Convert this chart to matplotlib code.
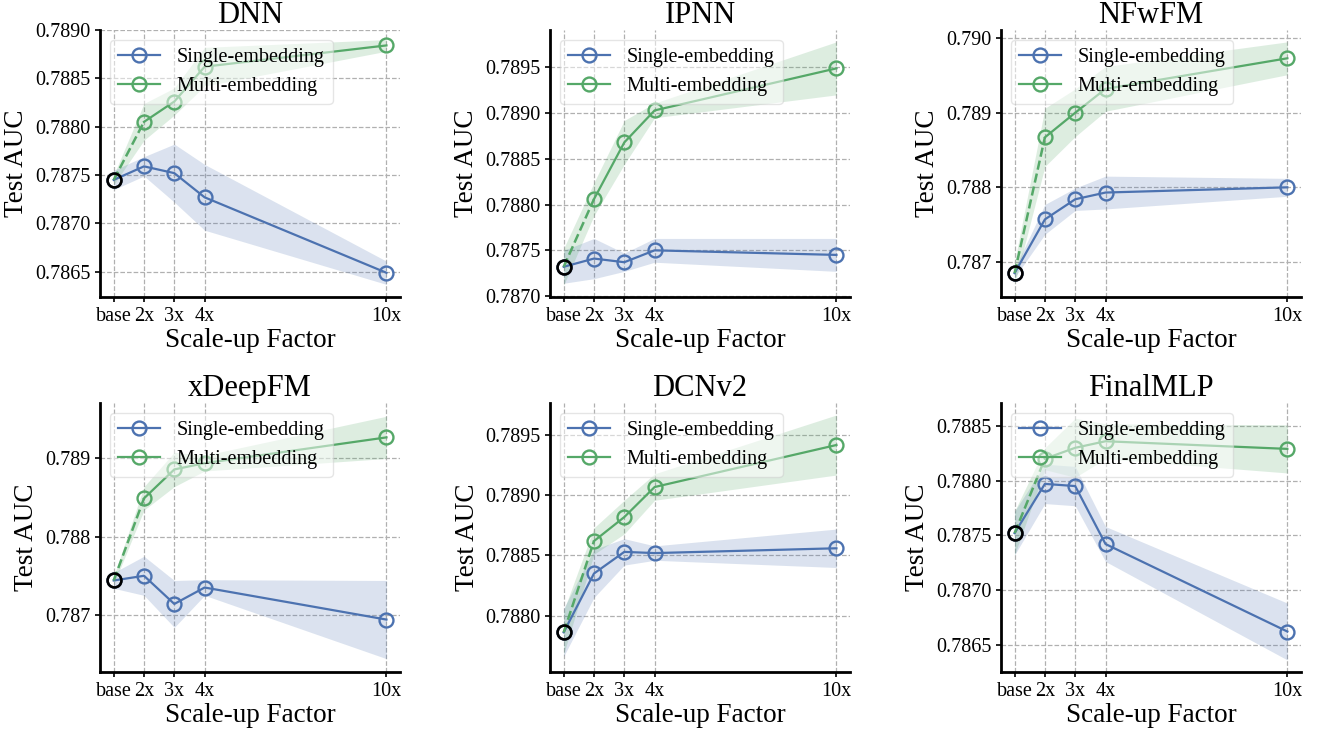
import matplotlib
matplotlib.use('Agg')
import matplotlib.pyplot as plt
from matplotlib.ticker import MultipleLocator, FormatStrFormatter
import numpy as np

plt.rcParams['font.family'] = ['Liberation Serif', 'DejaVu Serif']

# x 轴位置和标签
scale_x = [1, 2, 3, 4, 10]
scale_labels = ['base', '2x', '3x', '4x', '10x']

models = ['DNN', 'IPNN', 'NFwFM', 'xDeepFM', 'DCNv2', 'FinalMLP']

# 各模型的均值与标准差
dnn_single = [0.78745, 0.78759, 0.78752, 0.78727, 0.78649]
dnn_single_std = [0.0001, 0.0001, 0.0003, 0.00034, 0.00012]
dnn_multi = [0.78745, 0.78805, 0.78826, 0.78862, 0.78884]
dnn_multi_std = [0.00005, 0.00019, 0.00014, 0.0002, 0.00006]

ipnn_single = [0.78732, 0.78741, 0.78737, 0.78750, 0.78745]
ipnn_single_std = [0.00018, 0.00022, 0.0001, 0.00013, 0.00018]
ipnn_multi = [0.78732, 0.78806, 0.78868, 0.78903, 0.78949]
ipnn_multi_std = [0.0002, 0.00018, 0.00024, 0.00008, 0.00029]

nfwfm_single = [0.78685, 0.78757, 0.78784, 0.78793, 0.78800]
nfwfm_single_std = [0.00006, 0.0002, 0.00015, 0.00022, 0.00012]
nfwfm_multi = [0.78685, 0.78867, 0.78900, 0.78932, 0.78973]
nfwfm_multi_std = [0.00015, 0.00039, 0.00032, 0.0003, 0.00022]

xdeepfm_single = [0.78744, 0.78750, 0.78714, 0.78735, 0.78694]
xdeepfm_single_std = [0.0001, 0.00025, 0.0003, 0.0001, 0.0005]
xdeepfm_multi = [0.78744, 0.78849, 0.78886, 0.78894, 0.78927]
xdeepfm_multi_std = [0.00005, 0.00015, 0.00022, 0.0001, 0.00027]

dcnv2_single = [0.78786, 0.78835, 0.78853, 0.78852, 0.78856]
dcnv2_single_std = [0.0002, 0.0002, 0.00011, 0.00006, 0.00016]
dcnv2_multi = [0.78786, 0.78862, 0.78882, 0.78907, 0.78942]
dcnv2_multi_std = [0.00018, 0.00011, 0.00014, 0.00011, 0.00025]

finalmlp_single = [0.78752, 0.78797, 0.78795, 0.78742, 0.78662]
finalmlp_single_std = [0.0002, 0.00018, 0.00018, 0.00016, 0.00026]
finalmlp_multi = [0.78752, 0.78820, 0.78830, 0.78836, 0.78829]
finalmlp_multi_std = [0.0002, 0.0001, 0.00027, 0.00016, 0.00022]

singles = [dnn_single, ipnn_single, nfwfm_single, xdeepfm_single, dcnv2_single, finalmlp_single]
singles_std = [dnn_single_std, ipnn_single_std, nfwfm_single_std,
               xdeepfm_single_std, dcnv2_single_std, finalmlp_single_std]
multis = [dnn_multi, ipnn_multi, nfwfm_multi, xdeepfm_multi, dcnv2_multi, finalmlp_multi]
multis_std = [dnn_multi_std, ipnn_multi_std, nfwfm_multi_std,
              xdeepfm_multi_std, dcnv2_multi_std, finalmlp_multi_std]

# 坐标轴范围和刻度间隔
ylims = [(0.78624, 0.7890), (0.78699, 0.78991), (0.78653, 0.79011),
         (0.78627, 0.78971), (0.78753, 0.78977), (0.78625, 0.78871)]
ysteps = [0.0005, 0.0005, 0.001, 0.001, 0.0005, 0.0005]

blue = '#4C72B0'
green = '#55A868'

fig = plt.figure(figsize=(13.2, 7.32), dpi=100)
lefts = [0.0758, 0.4167, 0.7583]
rows = [(0.5943, 0.3648), (0.082, 0.3675)]

for i, name in enumerate(models):
    b, h = rows[i // 3]
    ax = fig.add_axes([lefts[i % 3], b, 0.2273, h])
    x = np.array(scale_x)
    s = np.array(singles[i])
    ss = np.array(singles_std[i])
    m = np.array(multis[i])
    ms = np.array(multis_std[i])

    ax.fill_between(x, s - ss, s + ss, color=blue, alpha=0.2, lw=0, zorder=1)
    ax.fill_between(x, m - ms, m + ms, color=green, alpha=0.2, lw=0, zorder=1)

    ax.plot(x, s, color=blue, lw=1.6, marker='o', ms=10, mfc='none', mew=1.7,
            label='Single-embedding', zorder=3)
    # base -> 2x 虚线
    ax.plot(x[:2], m[:2], color=green, lw=1.8, ls='--', zorder=3)
    ax.plot(x[1:], m[1:], color=green, lw=1.6, marker='o', ms=10, mfc='none', mew=1.7,
            zorder=3)
    ax.plot([], [], color=green, lw=1.6, marker='o', ms=10, mfc='none', mew=1.7,
            label='Multi-embedding')
    ax.plot(x[0], s[0], marker='o', ms=10, mfc='none', mec='black', mew=1.9, zorder=4)

    ax.set_xlim(0.55, 10.45)
    ax.set_ylim(*ylims[i])
    ax.set_xticks(scale_x)
    ax.set_xticklabels(scale_labels)
    ax.yaxis.set_major_locator(MultipleLocator(ysteps[i]))
    fmt = '%.4f' if ysteps[i] < 0.001 else '%.3f'
    ax.yaxis.set_major_formatter(FormatStrFormatter(fmt))
    ax.tick_params(labelsize=14.5, length=3.5, width=1.2)

    ax.grid(True, ls='--', color='#b0b0b0', lw=0.9)
    ax.set_axisbelow(True)
    for sp in ['top', 'right']:
        ax.spines[sp].set_visible(False)
    for sp in ['left', 'bottom']:
        ax.spines[sp].set_linewidth(2)
        ax.spines[sp].set_color('black')

    ax.set_title(name, fontsize=22, pad=4)
    ax.set_xlabel('Scale-up Factor', fontsize=19.5, labelpad=2)
    ax.set_ylabel('Test AUC', fontsize=19.5, labelpad=4)
    leg = ax.legend(loc='upper left', fontsize=14.5, framealpha=0.5,
                    handlelength=2.1, labelspacing=0.5)
    leg.set_zorder(5)

fig.savefig('out.png', dpi=100)
